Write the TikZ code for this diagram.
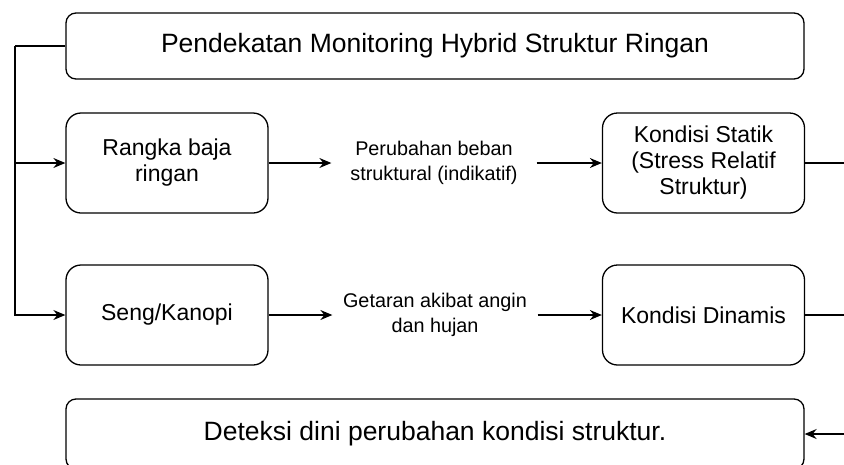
\documentclass[tikz,border=0pt]{standalone}
\usepackage{fontspec}
\setmainfont{Liberation Sans}
\usetikzlibrary{arrows.meta}
\begin{document}
\begin{tikzpicture}[x=1pt,y=-1pt,
  line width=1.3pt,
  box/.style={draw, rounded corners=15pt, align=center, inner sep=0pt,
    font=\fontsize{23}{26}\selectfont},
  wide/.style={draw, rounded corners=10pt, align=center, inner sep=0pt,
    minimum width=738pt, minimum height=66pt,
    font=\fontsize{26.5}{30}\selectfont},
  small/.style={minimum width=202pt, minimum height=100pt},
  lbl/.style={align=center, inner sep=0pt, minimum width=204pt,
    font=\fontsize{19.8}{25}\selectfont},
  arr/.style={-{Stealth[length=12pt,width=10pt,inset=4pt]}}
]
\useasboundingbox (0,0) rectangle (844,464);

% boxes
\node[wide] (top) at (435,46) {Pendekatan Monitoring Hybrid Struktur Ringan};
\node[box,small] (rangka) at (167,163) {Rangka baja\\ringan};
\node[box,small] (seng) at (167,315) {Seng/Kanopi};
\node[box,small] (statik) at (703.5,163) {Kondisi Statik\\(Stress Relatif\\Struktur)};
\node[box,small] (dinamis) at (703.5,315) {Kondisi Dinamis};
\node[wide, minimum height=70pt] (deteksi) at (435,434) {Deteksi dini perubahan kondisi struktur.};

% edge labels
\node[lbl] (l1) at (434,163) {Perubahan beban\\struktural (indikatif)};
\node[lbl] (l2) at (435,315) {Getaran akibat angin\\dan hujan};

% free ends of the connectors
\coordinate (lt) at (15,46);
\coordinate (r1) at (844,163);
\coordinate (r2) at (844,315);
\coordinate (r3) at (844,434);

% left branch
\draw (top.west) -- (lt);
\draw[arr] (lt) |- (rangka.west);
\draw[arr] (lt) |- (seng.west);

% middle flows
\draw[arr] (rangka.east) -- (l1.west);
\draw[arr] (l1.east) -- (statik.west);
\draw[arr] (seng.east) -- (l2.west);
\draw[arr] (l2.east) -- (dinamis.west);

% right side
\draw (statik.east) -- (r1);
\draw (dinamis.east) -- (r2);
\draw[arr] (r3) -- (deteksi.east);
\end{tikzpicture}
\end{document}
